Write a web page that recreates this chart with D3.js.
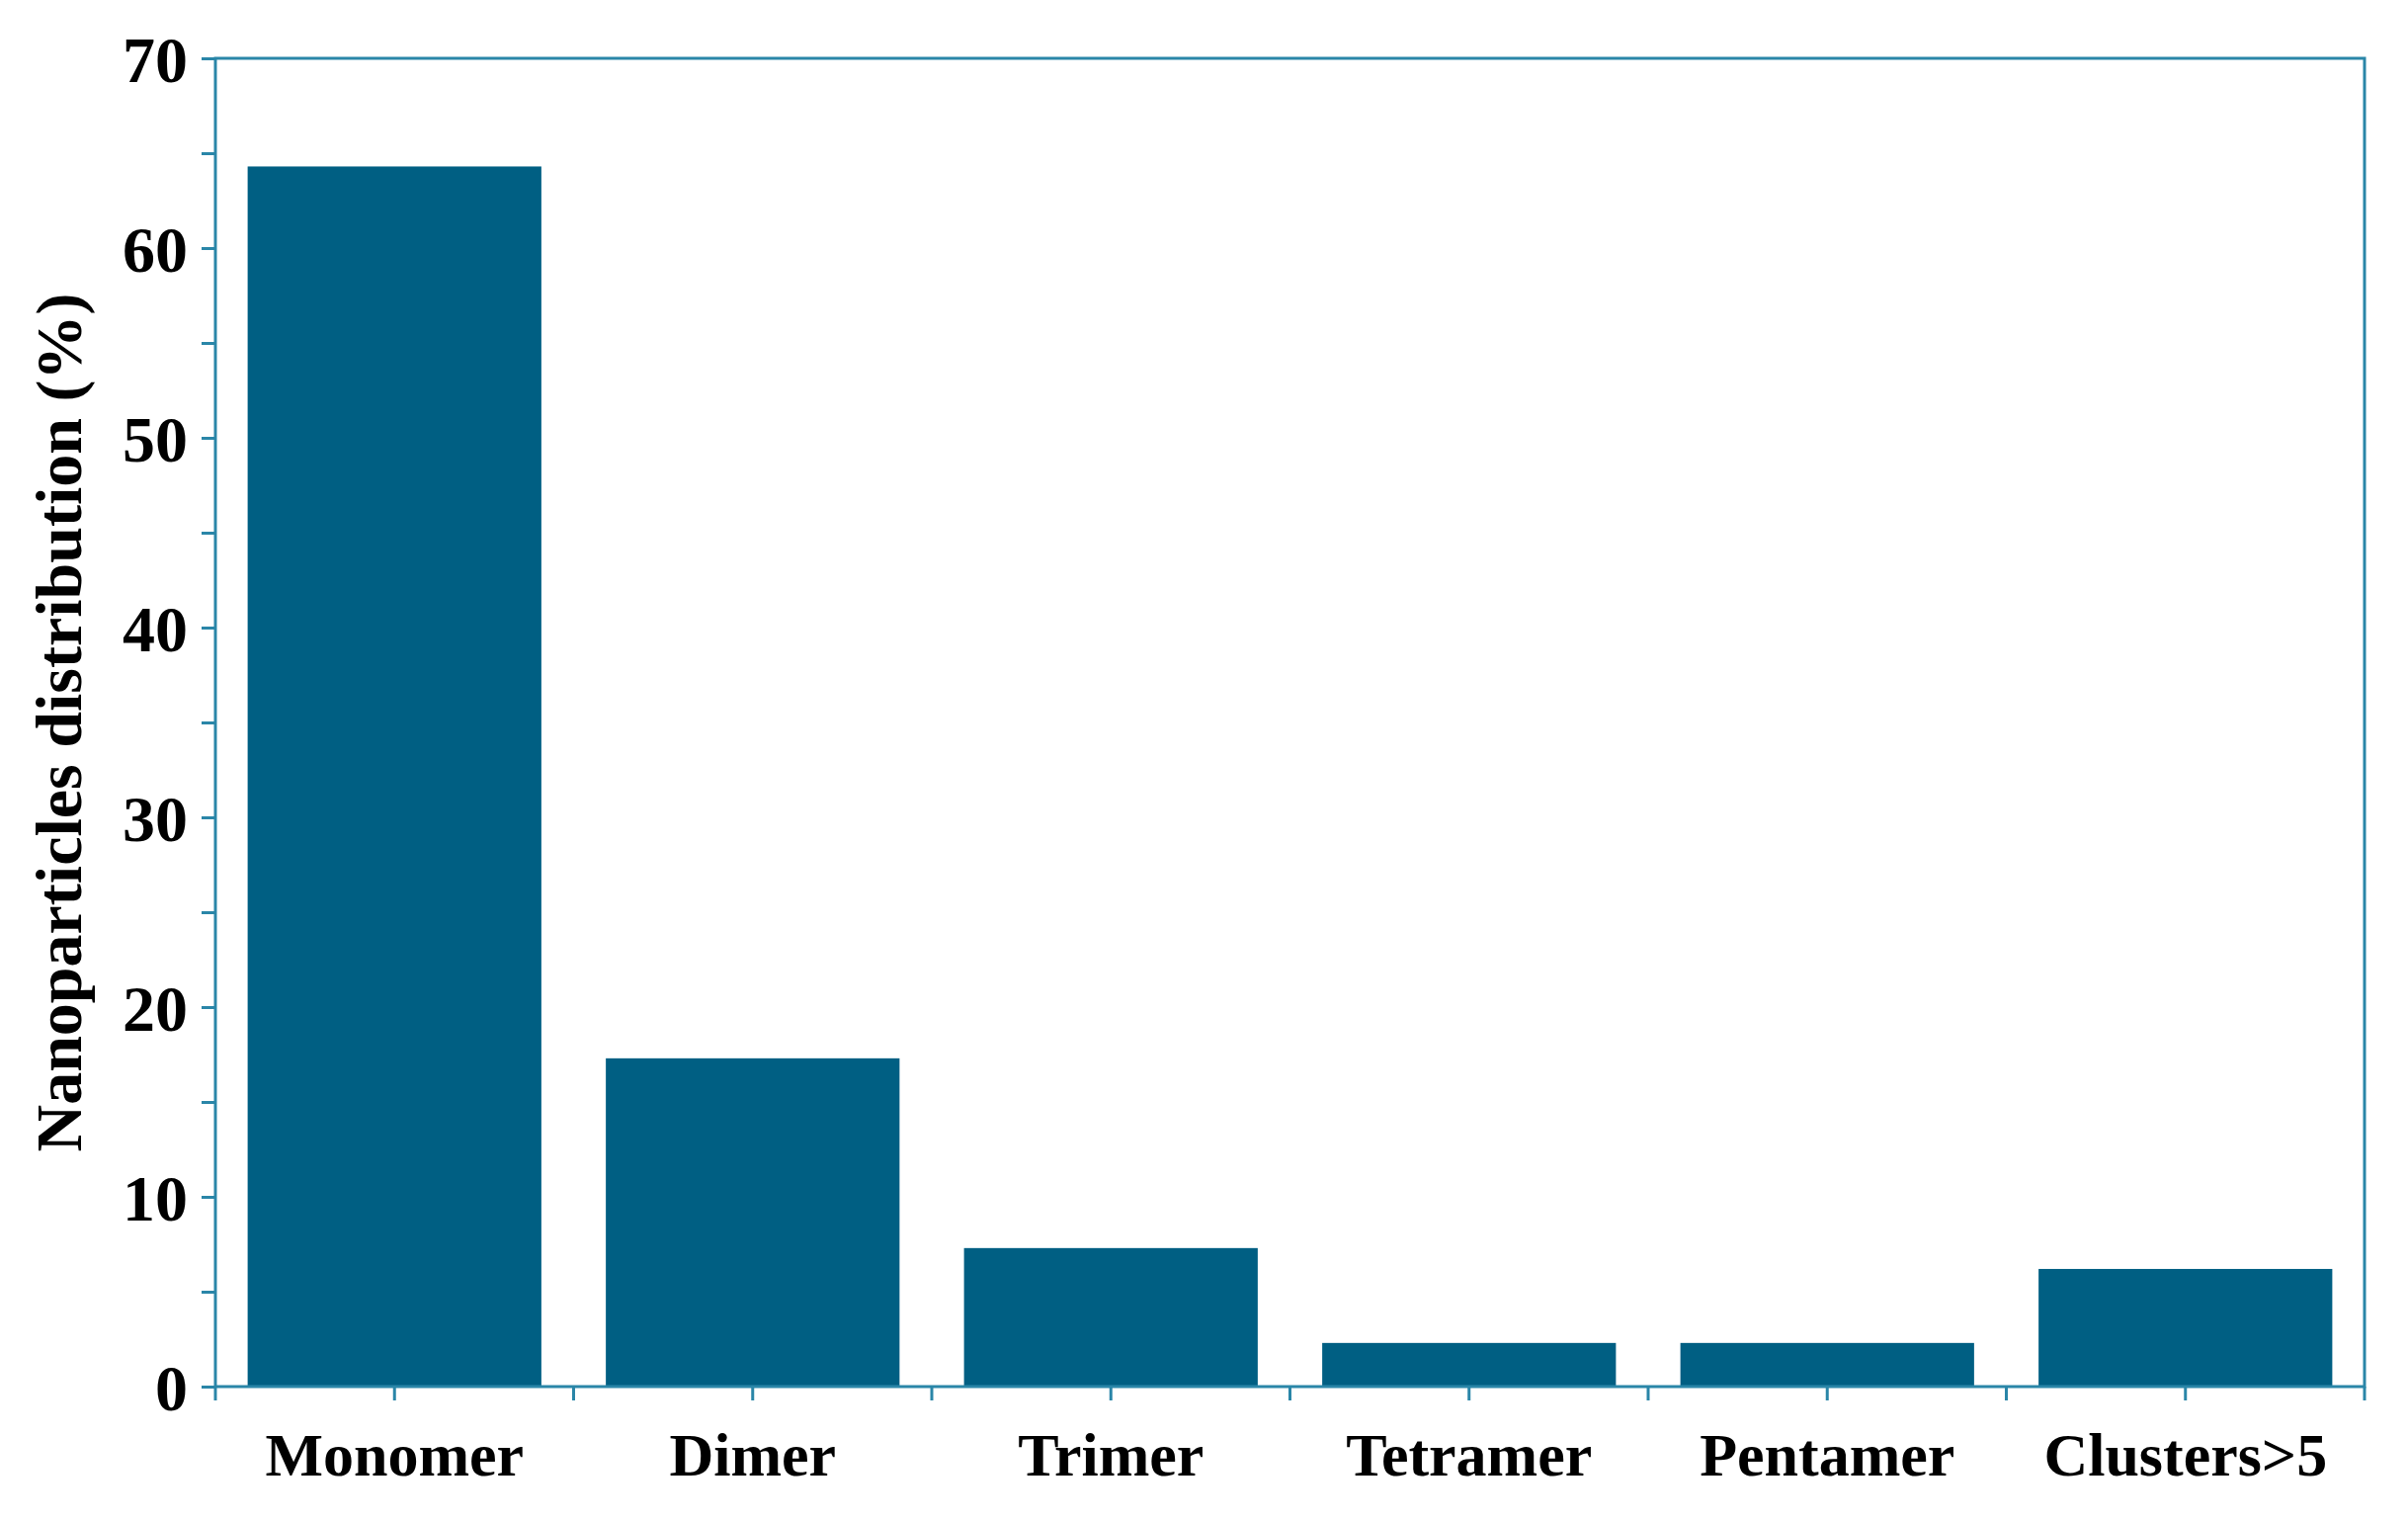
<!DOCTYPE html>
<html><head><meta charset="utf-8">
<script src="https://cdn.jsdelivr.net/npm/d3@7"></script>
<style>body{margin:0;background:#fff}</style>
</head><body>
<svg id="chart" width="2437" height="1539"></svg>
<script>
const categories = ["Monomer", "Dimer", "Trimer", "Tetramer", "Pentamer", "Clusters>5"];
const values = [64.3, 17.3, 7.3, 2.3, 2.3, 6.2];
const yTicks = [0, 10, 20, 30, 40, 50, 60, 70];

const m = {left: 218, right: 44, top: 59, bottom: 136};
const W = 2437, H = 1539;
const svg = d3.select("#chart");
const axisCol = "#2a86a8", barCol = "#005f83";
const font = "'Liberation Serif', 'Times New Roman', serif";

const x = d3.scaleBand().domain(categories).range([m.left, W - m.right]).paddingInner(0.18).paddingOuter(0.09);
const y = d3.scaleLinear().domain([0, 70]).range([H - m.bottom, m.top]);

svg.selectAll("rect.bar").data(values).join("rect")
  .attr("class", "bar")
  .attr("x", (d, i) => x(categories[i]))
  .attr("width", x.bandwidth())
  .attr("y", d => y(d))
  .attr("height", d => y(0) - y(d))
  .attr("fill", barCol);

// frame
svg.append("rect").attr("x", m.left).attr("y", m.top)
  .attr("width", W - m.right - m.left).attr("height", y(0) - m.top)
  .attr("fill", "none").attr("stroke", axisCol).attr("stroke-width", 3);

// y axis
const yAxis = svg.append("g").attr("transform", `translate(${m.left},0)`)
  .call(d3.axisLeft(y).tickValues(d3.range(0, 71, 5)).tickSize(14).tickPadding(14)
    .tickFormat(d => yTicks.includes(d) ? d : ""));
yAxis.select(".domain").remove();
yAxis.selectAll("line").attr("stroke", axisCol).attr("stroke-width", 3);
yAxis.selectAll("text").attr("font-family", font).attr("font-weight", "bold")
  .attr("font-size", 66).attr("fill", "#000").attr("dy", "0.35em");

// x axis: ticks at centers and boundaries
const bounds = d3.range(categories.length + 1).map(i => m.left + i * (W - m.right - m.left) / categories.length);
const centers = categories.map(c => x(c) + x.bandwidth() / 2);
svg.append("g").selectAll("line").data(bounds.concat(centers)).join("line")
  .attr("x1", d => d).attr("x2", d => d)
  .attr("y1", y(0)).attr("y2", y(0) + 14)
  .attr("stroke", axisCol).attr("stroke-width", 3);

svg.append("g").selectAll("text").data(categories).join("text")
  .attr("x", d => x(d) + x.bandwidth() / 2)
  .attr("y", 1493)
  .attr("text-anchor", "middle")
  .attr("font-family", font).attr("font-weight", "bold").attr("font-size", 62)
  .text(d => d);

svg.append("text")
  .attr("transform", `translate(82,${(m.top + y(0)) / 2}) rotate(-90)`)
  .attr("text-anchor", "middle")
  .attr("font-family", font).attr("font-weight", "bold").attr("font-size", 66)
  .text("Nanoparticles distribution (%)");
</script>
</body></html>
